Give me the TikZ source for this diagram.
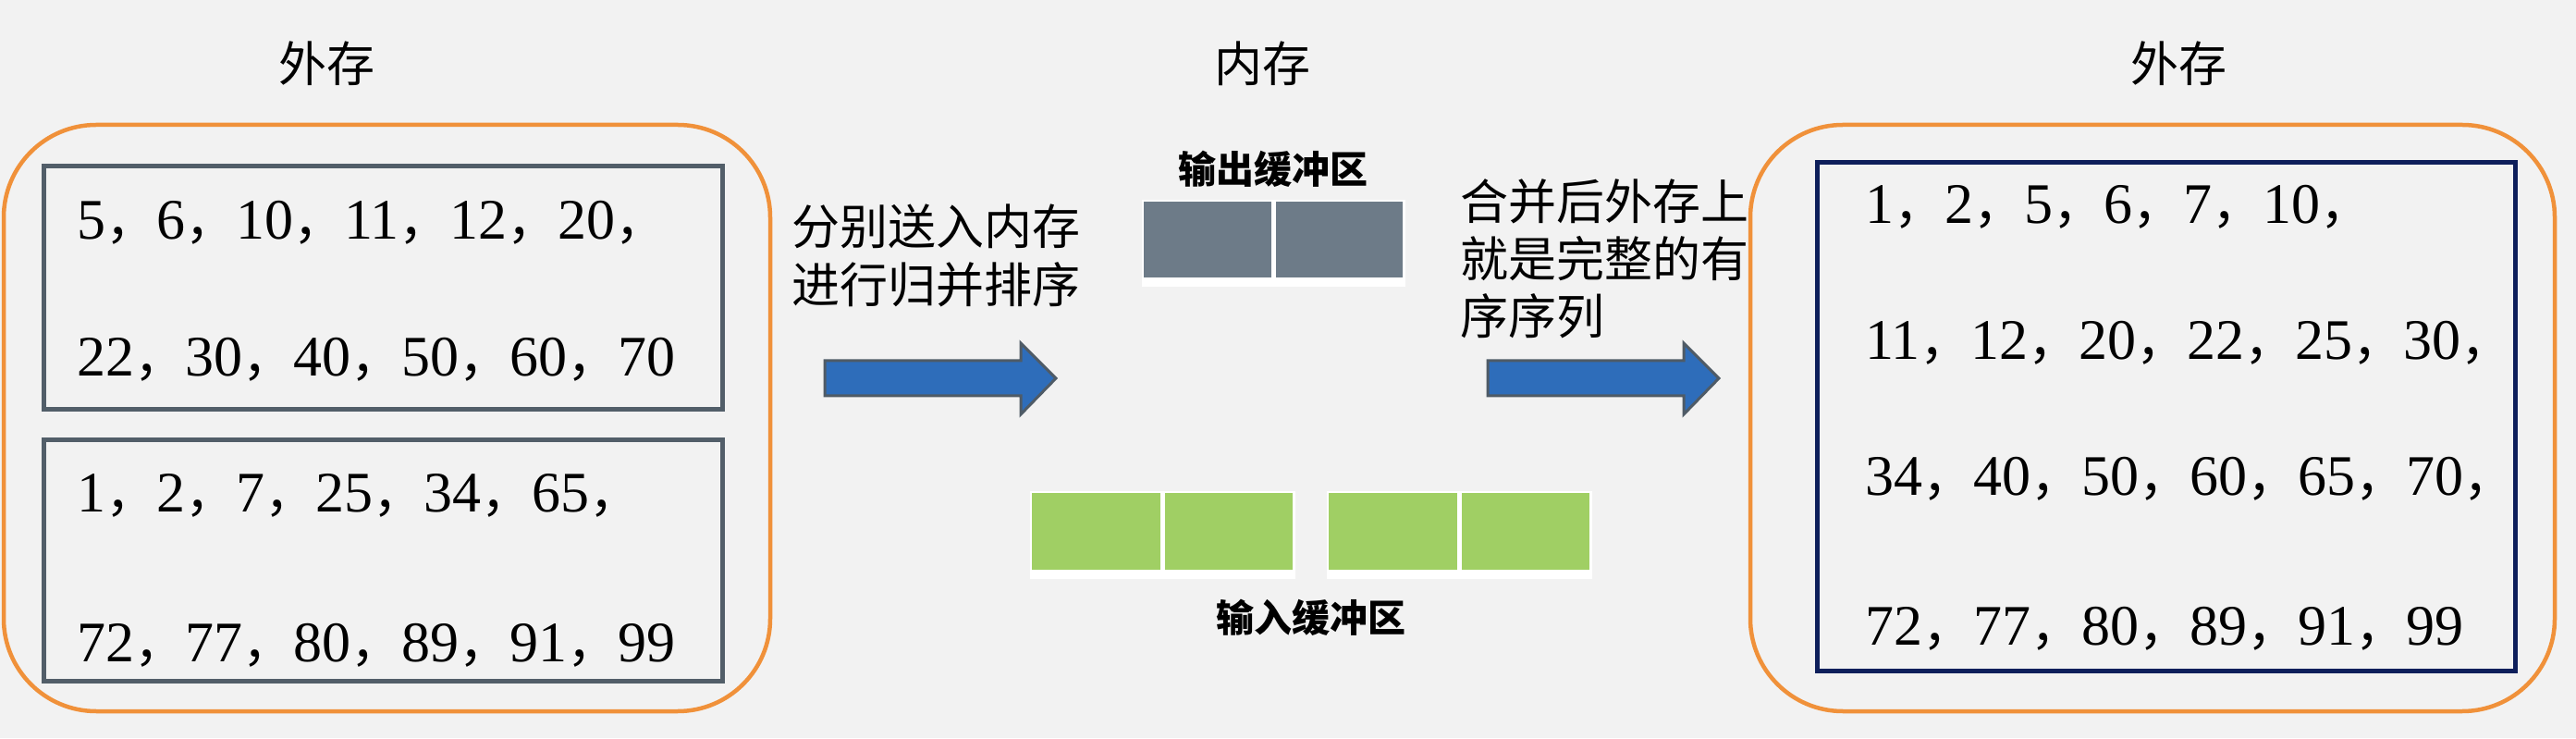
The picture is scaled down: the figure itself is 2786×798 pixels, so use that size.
\documentclass[tikz,border=0pt]{standalone}
\usepackage{fontspec}
\setmainfont{Liberation Serif}
\newfontfamily\hei{Noto Sans CJK SC}
\newcommand\cm{{\hei\fontsize{55}{60}\selectfont ，}}
\usetikzlibrary{positioning}
\definecolor{paper}{HTML}{F2F2F2}
\definecolor{orng}{HTML}{F0913A}
\definecolor{slate}{HTML}{525E69}
\definecolor{navy}{HTML}{0E1F5B}
\definecolor{arrblue}{HTML}{2E6DBA}
\definecolor{arredge}{HTML}{4F5B66}
\definecolor{outgray}{HTML}{6D7B88}
\definecolor{ingreen}{HTML}{A0CF64}
\tikzset{
  disk/.style={draw=orng,line width=4.5pt,rounded corners=100pt,inner sep=0pt},
  runbox/.style={draw=slate,line width=5pt,inner sep=0pt},
  mergedbox/.style={draw=navy,line width=5pt,inner sep=0pt},
  nums/.style={font=\rmfamily\fontsize{62}{64}\selectfont,anchor=base west,inner sep=0pt},
  ttl/.style={font=\hei\fontsize{52}{56}\selectfont,inner sep=0pt},
  note/.style={font=\hei\fontsize{52}{63}\selectfont,align=left,anchor=west,inner sep=0pt},
  buflab/.style={font=\hei\bfseries\fontsize{41}{44}\selectfont,inner sep=0pt},
  outcell/.style={fill=outgray,draw=white,line width=2.5pt,minimum width=140pt,minimum height=84pt,inner sep=0pt},
  incell/.style={fill=ingreen,draw=white,line width=2.5pt,minimum width=141pt,minimum height=85pt,inner sep=0pt},
  blk/.style={fill=arrblue,draw=arredge,line width=3pt},
}

\begin{document}
\begin{tikzpicture}[x=1pt,y=1pt]
  \useasboundingbox (0,0) rectangle (2786,798);
  \fill[paper] (0,0) rectangle (2786,798);
  % external storage, before
  \node[disk,minimum width=829pt,minimum height=634pt] (extL) at (418.5,346) {};
  \node[runbox,minimum width=734pt,minimum height=263pt] (runA) at (414,486.5) {};
  \node[runbox,minimum width=734pt,minimum height=260pt] (runB) at (414,192) {};
  \node[nums] (a1) at (83,539) {5\cm 6\cm 10\cm 11\cm 12\cm 20\cm};
  \node[nums] (a2) at (83,391) {22\cm 30\cm 40\cm 50\cm 60\cm 70};
  \node[nums] (b1) at (83,244) {1\cm 2\cm 7\cm 25\cm 34\cm 65\cm};
  \node[nums] (b2) at (83,83) {72\cm 77\cm 80\cm 89\cm 91\cm 99};
  \node[ttl] (ttlL) at (353,729) {外存};
  % memory
  \node[ttl] (ttlM) at (1365,729) {内存};
  \node[outcell] (ob1) at (1306,539) {};
  \node[outcell,right=0pt of ob1] (ob2) {};
  \fill[white] (ob1.south west) rectangle ([yshift=-8pt]ob2.south east);
  \node[buflab,above=13pt of ob1.north east] (outlab) {输出缓冲区};
  \node[incell] (ib1) at (1185.5,223.5) {};
  \node[incell,right=0pt of ib1] (ib2) {};
  \node[incell,right=34pt of ib2] (ib3) {};
  \node[incell,right=0pt of ib3] (ib4) {};
  \fill[white] (ib1.south west) rectangle ([yshift=-8pt]ib2.south east);
  \fill[white] (ib3.south west) rectangle ([yshift=-8pt]ib4.south east);
  \node[buflab,below=30pt of ib2.south east,xshift=17pt] (inlab) {输入缓冲区};
  \node[note] (step1) at (856,521.5) {分别送入内存\\进行归并排序};
  \node[note,font=\hei\fontsize{52}{62}\selectfont] (step2) at (1579,518.5) {合并后外存上\\就是完整的有\\序序列};
  \draw[blk] (892,408) -- (1104,408) -- (1104,427) -- (1142,389) -- (1104,350) -- (1104,370) -- (892,370) -- cycle;
  \draw[blk] (1609,408) -- (1821,408) -- (1821,427) -- (1859,389) -- (1821,350) -- (1821,370) -- (1609,370) -- cycle;
  % external storage, after
  \node[disk,minimum width=870pt,minimum height=634pt] (extR) at (2328,346) {};
  \node[mergedbox,minimum width=755pt,minimum height=549pt] (merged) at (2342.5,347.5) {};
  \node[nums] (c1) at (2017,556) {1\cm 2\cm 5\cm 6\cm 7\cm 10\cm};
  \node[nums] (c2) at (2017,409) {11\cm 12\cm 20\cm 22\cm 25\cm 30\cm};
  \node[nums] (c3) at (2017,262) {34\cm 40\cm 50\cm 60\cm 65\cm 70\cm};
  \node[nums] (c4) at (2017,101) {72\cm 77\cm 80\cm 89\cm 91\cm 99};
  \node[ttl] (ttlR) at (2356,729) {外存};
\end{tikzpicture}
\end{document}
